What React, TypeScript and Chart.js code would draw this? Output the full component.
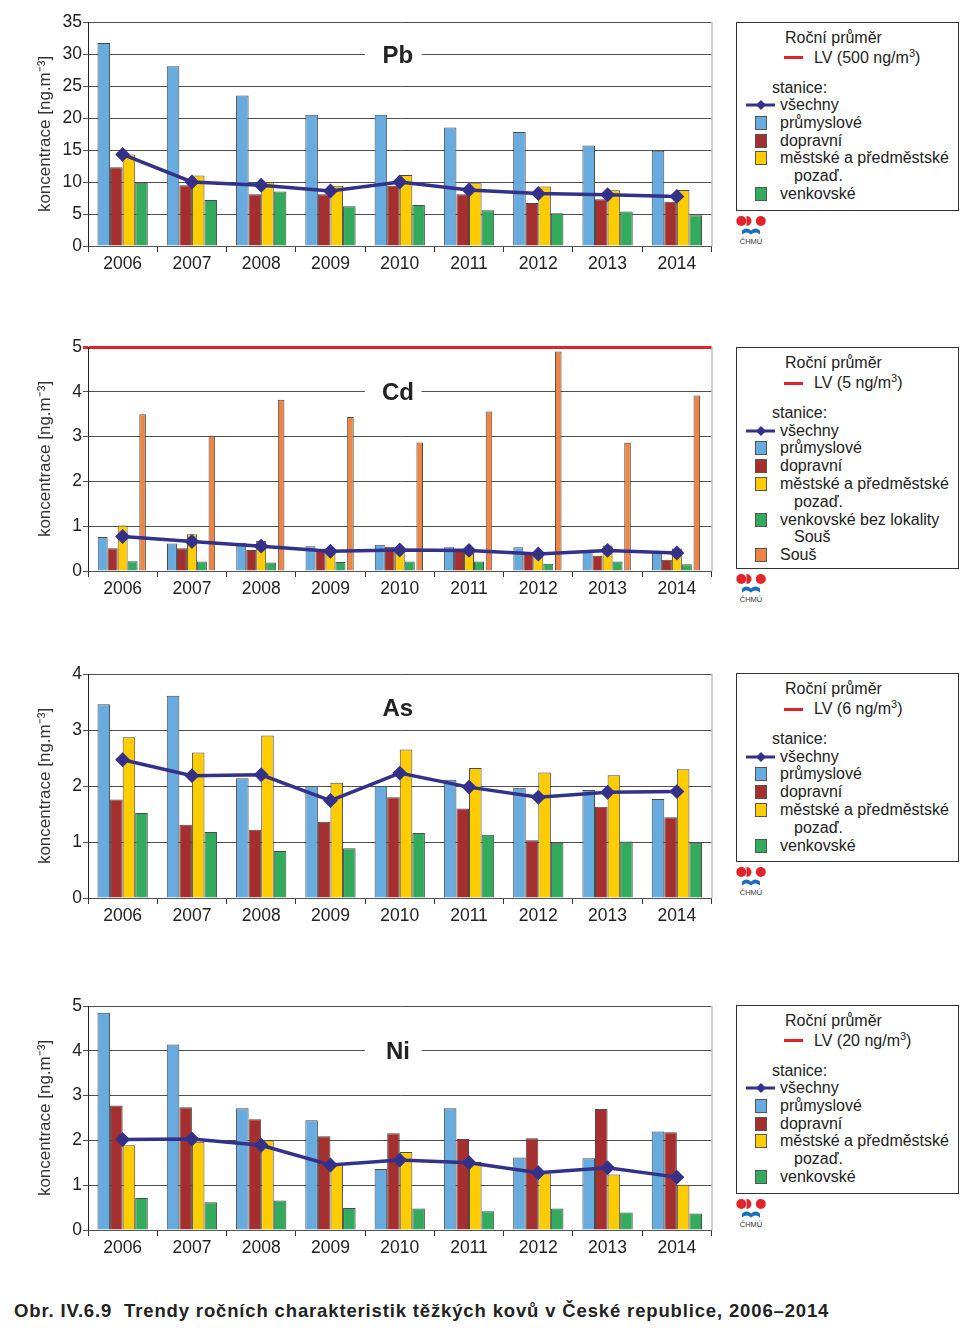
import React, { useEffect, useRef } from "react";
import { Chart, registerables } from "chart.js";
Chart.register(...registerables);

const FONT = '"Liberation Sans", Arial, Helvetica, sans-serif';

// ---------- data ----------
const years = ["2006", "2007", "2008", "2009", "2010", "2011", "2012", "2013", "2014"];

const pbAll = [14.3, 10.0, 9.5, 8.6, 10.0, 8.75, 8.2, 8.0, 7.75];
const pbIndustrial = [31.7, 28.1, 23.5, 20.5, 20.5, 18.5, 17.8, 15.7, 14.9];
const pbTraffic = [12.3, 9.5, 8.1, 8.1, 9.4, 8.1, 6.7, 7.3, 6.9];
const pbUrban = [14.3, 11.0, 10.0, 9.4, 11.1, 9.8, 9.3, 8.7, 8.75];
const pbRural = [9.9, 7.2, 8.5, 6.2, 6.4, 5.6, 5.1, 5.4, 4.8];

const cdAll = [0.77, 0.66, 0.555, 0.44, 0.47, 0.46, 0.38, 0.46, 0.4];
const cdIndustrial = [0.76, 0.615, 0.63, 0.55, 0.585, 0.53, 0.53, 0.45, 0.44];
const cdTraffic = [0.51, 0.51, 0.47, 0.45, 0.54, 0.5, 0.42, 0.34, 0.25];
const cdUrban = [1.015, 0.82, 0.67, 0.42, 0.47, 0.47, 0.44, 0.57, 0.5];
const cdRuralExSous = [0.215, 0.21, 0.19, 0.2, 0.21, 0.21, 0.16, 0.21, 0.15];
const cdSous = [3.5, 3.02, 3.82, 3.44, 2.87, 3.56, 4.9, 2.86, 3.92];

const asAll = [2.47, 2.185, 2.2, 1.74, 2.23, 1.98, 1.8, 1.89, 1.9];
const asIndustrial = [3.46, 3.61, 2.14, 1.99, 2.0, 2.11, 1.97, 1.93, 1.77];
const asTraffic = [1.76, 1.31, 1.22, 1.36, 1.8, 1.6, 1.03, 1.63, 1.44];
const asUrban = [2.87, 2.6, 2.9, 2.06, 2.65, 2.32, 2.24, 2.19, 2.3];
const asRural = [1.52, 1.18, 0.84, 0.89, 1.16, 1.13, 0.985, 1.01, 0.985];

const niAll = [2.02, 2.03, 1.89, 1.45, 1.56, 1.5, 1.28, 1.39, 1.18];
const niIndustrial = [4.85, 4.14, 2.72, 2.45, 1.36, 2.72, 1.62, 1.6, 2.2];
const niTraffic = [2.78, 2.74, 2.47, 2.09, 2.16, 2.03, 2.05, 2.7, 2.18];
const niUrban = [1.89, 1.97, 2.0, 1.47, 1.74, 1.52, 1.26, 1.24, 1.01];
const niRural = [0.715, 0.62, 0.66, 0.49, 0.48, 0.42, 0.48, 0.39, 0.37];

const limitValues = { Pb: 500, Cd: 5, As: 6, Ni: 20 };
const yMax = { Pb: 35, Cd: 5, As: 4, Ni: 5 };
const yStep = { Pb: 5, Cd: 1, As: 1, Ni: 1 };

// ---------- styles ----------
const C = {
  all: "#34318a",
  industrial: "#68abdf",
  traffic: "#a52e2f",
  urban: "#ffcc00",
  rural: "#32ab5d",
  sous: "#ef8443",
  lv: "#e3232a",
  text: "#222",
};

type Series = { label: string; data: number[]; color: string; barPct?: number };

type PanelCfg = {
  name: string;
  top: number;
  max: number;
  step: number;
  lv: number;
  titleValue: number;
  all: number[];
  series: Series[];
  catPct: number;
  legendTop: number;
  legendHeight: number;
  legendItems: { type: "box" | "cont"; label: string; color?: string }[];
};

const decorPlugin = {
  id: "decor",
  afterDraw(chart: any, _args: any, opts: any) {
    const { ctx, chartArea, scales } = chart;
    ctx.save();
    ctx.strokeStyle = "#a0a0a0";
    ctx.lineWidth = 1;
    ctx.beginPath();
    ctx.moveTo(chartArea.right + 0.5, chartArea.top);
    ctx.lineTo(chartArea.right + 0.5, chartArea.bottom);
    ctx.stroke();
    const w = chartArea.right - chartArea.left;
    const y = scales.y.getPixelForValue(opts.value);
    ctx.fillStyle = "#fff";
    ctx.fillRect(chartArea.left + w * 0.444, y - 14, w * 0.091, 28);
    ctx.fillStyle = C.text;
    ctx.font = `bold 24px ${FONT}`;
    ctx.textAlign = "center";
    ctx.textBaseline = "middle";
    ctx.fillText(opts.text, chartArea.left + w * 0.497, y + 2);
    ctx.restore();
  },
};

function Panel({ cfg }: { cfg: PanelCfg }) {
  const ref = useRef<HTMLCanvasElement | null>(null);
  useEffect(() => {
    if (!ref.current) return;
    const lv = cfg.lv;
    const chart = new Chart(ref.current, {
      type: "bar",
      data: {
        labels: years,
        datasets: [
          {
            type: "line",
            label: "všechny",
            data: cfg.all,
            borderColor: C.all,
            backgroundColor: C.all,
            borderWidth: 3.5,
            pointStyle: "rectRot",
            pointRadius: 5,
            pointBackgroundColor: C.all,
            pointBorderColor: C.all,
            order: 0,
          } as any,
          ...cfg.series.map((s) => ({
            type: "bar",
            label: s.label,
            data: s.data,
            backgroundColor: s.color,
            borderColor: "#4a4a4a",
            borderWidth: 1,
            barPercentage: s.barPct ?? 1,
            categoryPercentage: cfg.catPct,
            order: 1,
          })),
        ] as any,
      },
      options: {
        responsive: true,
        maintainAspectRatio: false,
        animation: false,
        layout: { padding: { left: 0, right: 4, top: 22, bottom: 4 } },
        plugins: {
          legend: { display: false },
          tooltip: { enabled: false },
          decor: { text: cfg.name, value: cfg.titleValue },
        } as any,
        scales: {
          x: {
            offset: true,
            grid: {
              offset: true,
              drawOnChartArea: false,
              drawTicks: true,
              tickLength: 6,
              color: "#333",
            },
            border: { color: "#555", width: 1 },
            ticks: { color: C.text, font: { family: FONT, size: 17.5 }, padding: 2, maxRotation: 0 },
            afterFit: (s: any) => {
              s.height = 30;
            },
          },
          y: {
            min: 0,
            max: cfg.max,
            ticks: { stepSize: cfg.step, color: C.text, font: { family: FONT, size: 17.5 }, padding: 1 },
            grid: {
              color: (c: any) => (c.tick && c.tick.value === lv ? C.lv : "#505050"),
              lineWidth: (c: any) => (c.tick && c.tick.value === lv ? 3 : 1),
              tickLength: 5,
            },
            border: { color: "#222", width: 1 },
            title: {
              display: true,
              text: "koncentrace [ng.m⁻³]",
              color: "#333",
              font: { family: FONT, size: 17 },
              padding: { top: 35, bottom: 0 },
            },
            afterFit: (s: any) => {
              s.width = 88;
            },
          },
        },
      } as any,
      plugins: [decorPlugin as any],
    });
    return () => chart.destroy();
  }, [cfg]);
  return (
    <div style={{ position: "absolute", left: 0, top: cfg.top - 22, width: 720, height: 280 }}>
      <canvas ref={ref} />
    </div>
  );
}

const rowText: React.CSSProperties = {
  position: "absolute",
  height: 18,
  lineHeight: "18px",
  fontSize: 16,
  fontFamily: FONT,
  color: C.text,
  whiteSpace: "nowrap",
};

function Legend({ cfg }: { cfg: PanelCfg }) {
  const rowY = (i: number) => 83.5 + 17.8 * i;
  return (
    <>
      <div
        style={{
          position: "absolute",
          left: 736,
          top: cfg.legendTop,
          width: 223,
          height: cfg.legendHeight,
          border: "1px solid #333",
          boxSizing: "border-box",
          background: "#fff",
        }}
      >
        <div style={{ ...rowText, left: 48, top: 16 - 10 }}>Roční průměr</div>
        <div style={{ position: "absolute", left: 47, top: 36 - 2.5, width: 19, height: 3, background: C.lv }} />
        <div style={{ ...rowText, left: 77, top: 36 - 10 }}>
          LV ({cfg.lv} ng/m<sup style={{ fontSize: 11, verticalAlign: "6px", lineHeight: 0 }}>3</sup>)
        </div>
        <div style={{ ...rowText, left: 35, top: 66 - 10 }}>stanice:</div>
        <svg style={{ position: "absolute", left: 9, top: rowY(0) - 7 }} width={30} height={12}>
          <line x1={0} y1={6} x2={29} y2={6} stroke={C.all} strokeWidth={3} />
          <polygon points="15,1 20,6 15,11 10,6" fill={C.all} />
        </svg>
        <div style={{ ...rowText, left: 43, top: rowY(0) - 10 }}>všechny</div>
        {cfg.legendItems.map((it, i) => (
          <React.Fragment key={i}>
            {it.type === "box" && (
              <div
                style={{
                  position: "absolute",
                  left: 17.5,
                  top: rowY(i + 1) - 8,
                  width: 12,
                  height: 14,
                  background: it.color,
                  border: "1px solid #555",
                  boxSizing: "border-box",
                }}
              />
            )}
            <div style={{ ...rowText, left: it.type === "box" ? 43 : 57, top: rowY(i + 1) - 10 }}>{it.label}</div>
          </React.Fragment>
        ))}
      </div>
      <svg
        style={{ position: "absolute", left: 736, top: cfg.legendTop + cfg.legendHeight + 5 }}
        width={32}
        height={30}
      >
        <circle cx={5.3} cy={5} r={5} fill="#e3232a" />
        <path d="M 11 0 A 5 5 0 0 1 11 10 Z" fill="#e3232a" transform="translate(-0.5,0)" />
        <circle cx={24.8} cy={5} r={5} fill="#e3232a" />
        <path
          d="M 6 18.5 L 6 14.5 Q 10.5 10.5 15 14.5 Q 19.5 10.5 24 14.5 L 24 18.5 Q 19.5 14.5 15 18.5 Q 10.5 14.5 6 18.5 Z"
          fill="#1a6dc0"
        />
        <text x={15} y={27.5} textAnchor="middle" fontSize={7.5} fontFamily={FONT} fill="#333">
          ČHMÚ
        </text>
      </svg>
    </>
  );
}

const commonItems = (rural: string) => [
  { type: "box" as const, label: "průmyslové", color: C.industrial },
  { type: "box" as const, label: "dopravní", color: C.traffic },
  { type: "box" as const, label: "městské a předměstské", color: C.urban },
  { type: "cont" as const, label: "pozaď." },
  { type: "box" as const, label: rural, color: C.rural },
];

const panels: PanelCfg[] = [
  {
    name: "Pb",
    top: 22,
    max: yMax.Pb,
    step: yStep.Pb,
    lv: limitValues.Pb,
    titleValue: 30,
    all: pbAll,
    catPct: 0.726,
    series: [
      { label: "průmyslové", data: pbIndustrial, color: C.industrial },
      { label: "dopravní", data: pbTraffic, color: C.traffic },
      { label: "městské a předměstské pozaď.", data: pbUrban, color: C.urban },
      { label: "venkovské", data: pbRural, color: C.rural },
    ],
    legendTop: 21.5,
    legendHeight: 189,
    legendItems: commonItems("venkovské"),
  },
  {
    name: "Cd",
    top: 347,
    max: yMax.Cd,
    step: yStep.Cd,
    lv: limitValues.Cd,
    titleValue: 4,
    all: cdAll,
    catPct: 0.72,
    series: [
      { label: "průmyslové", data: cdIndustrial, color: C.industrial },
      { label: "dopravní", data: cdTraffic, color: C.traffic },
      { label: "městské a předměstské pozaď.", data: cdUrban, color: C.urban },
      { label: "venkovské bez lokality Souš", data: cdRuralExSous, color: C.rural },
      { label: "Souš", data: cdSous, color: C.sous, barPct: 0.66 },
    ],
    legendTop: 347,
    legendHeight: 222,
    legendItems: [
      ...commonItems("venkovské bez lokality"),
      { type: "cont", label: "Souš" },
      { type: "box", label: "Souš", color: C.sous },
    ],
  },
  {
    name: "As",
    top: 674,
    max: yMax.As,
    step: yStep.As,
    lv: limitValues.As,
    titleValue: 3.4,
    all: asAll,
    catPct: 0.726,
    series: [
      { label: "průmyslové", data: asIndustrial, color: C.industrial },
      { label: "dopravní", data: asTraffic, color: C.traffic },
      { label: "městské a předměstské pozaď.", data: asUrban, color: C.urban },
      { label: "venkovské", data: asRural, color: C.rural },
    ],
    legendTop: 673,
    legendHeight: 189,
    legendItems: commonItems("venkovské"),
  },
  {
    name: "Ni",
    top: 1006,
    max: yMax.Ni,
    step: yStep.Ni,
    lv: limitValues.Ni,
    titleValue: 4,
    all: niAll,
    catPct: 0.726,
    series: [
      { label: "průmyslové", data: niIndustrial, color: C.industrial },
      { label: "dopravní", data: niTraffic, color: C.traffic },
      { label: "městské a předměstské pozaď.", data: niUrban, color: C.urban },
      { label: "venkovské", data: niRural, color: C.rural },
    ],
    legendTop: 1004.5,
    legendHeight: 189,
    legendItems: commonItems("venkovské"),
  },
];

export default function App() {
  return (
    <div style={{ position: "absolute", left: 0, top: 0, width: 976, height: 1339, background: "#fff", overflow: "hidden" }}>
      {panels.map((p) => (
        <React.Fragment key={p.name}>
          <Panel cfg={p} />
          <Legend cfg={p} />
        </React.Fragment>
      ))}
      <div
        style={{
          position: "absolute",
          left: 14,
          top: 1300,
          fontFamily: FONT,
          fontWeight: "bold",
          fontSize: 18.5,
          letterSpacing: "0.85px",
          lineHeight: "22px",
          color: "#222",
          whiteSpace: "pre",
        }}
      >
        {"Obr. IV.6.9  Trendy ročních charakteristik těžkých kovů v České republice, 2006–2014"}
      </div>
    </div>
  );
}
